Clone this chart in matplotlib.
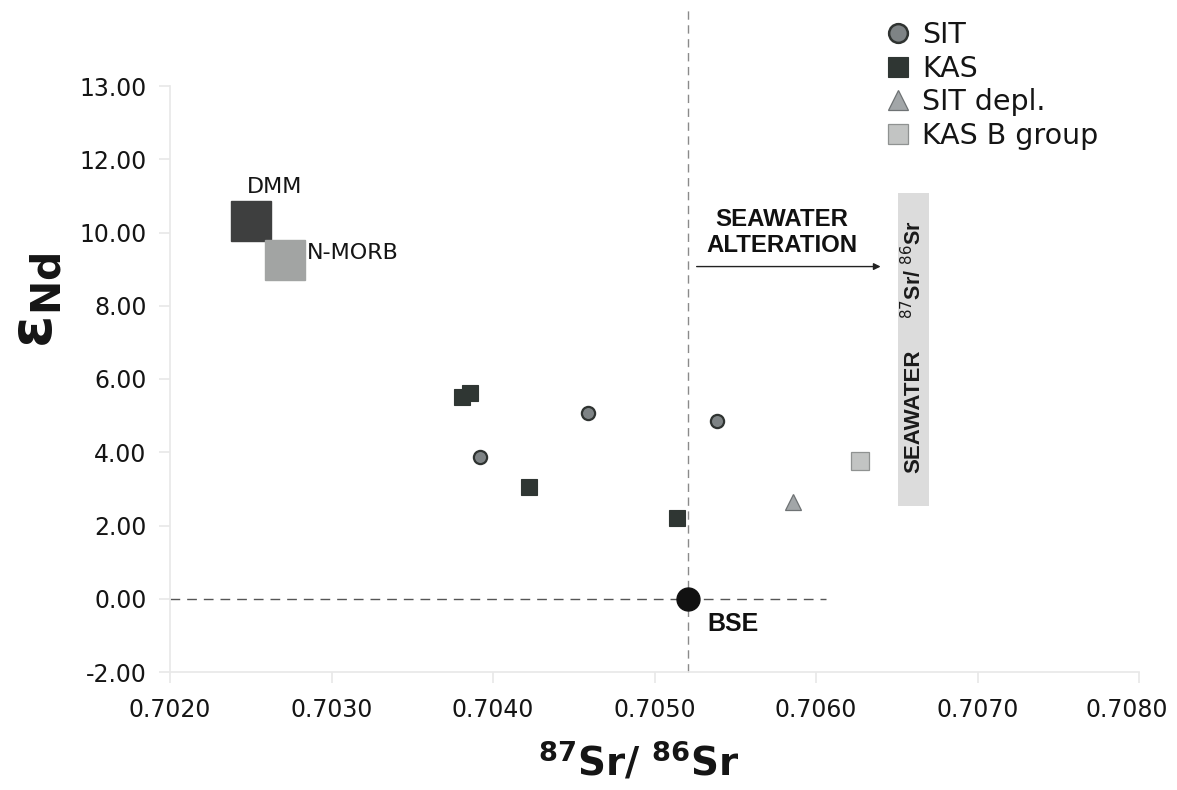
import matplotlib
matplotlib.use("Agg")
import matplotlib.pyplot as plt
from matplotlib.lines import Line2D
from matplotlib.patches import Rectangle
from matplotlib.transforms import ScaledTranslation

# --- data -------------------------------------------------------------
sit_sr = [0.70392, 0.70459, 0.70539]
sit_nd = [3.86, 5.08, 4.84]

kas_sr = [0.70381, 0.70386, 0.70422, 0.70514]
kas_nd = [5.52, 5.61, 3.05, 2.21]

sit_depl_sr = [0.70586]
sit_depl_nd = [2.65]

kas_b_sr = [0.70627]
kas_b_nd = [3.75]

dmm = (0.70250, 10.31)
nmorb = (0.70271, 9.26)
bse = (0.70521, 0.0)

seawater_sr = (0.70651, 0.70670)   # band width along x
seawater_nd = (2.52, 11.08)        # band extent along y

xticks = [0.7020, 0.7030, 0.7040, 0.7050, 0.7060, 0.7070, 0.7080]
xtick_labels = ["0.7020", "0.7030", "0.7040", "0.7050", "0.7060", "0.7070", "0.7080"]
yticks = [-2, 0, 2, 4, 6, 8, 10, 12, 14]
ytick_labels = ["-2.00", "0.00", "2.00", "4.00", "6.00", "8.00", "10.00", "12.00", "13.00"]

# --- figure -------------------------------------------------------------
W, H, DPI = 1177, 790, 100
fig = plt.figure(figsize=(W / DPI, H / DPI), dpi=DPI)
ax = fig.add_axes([170 / W, 1 - 672 / H, (1139 - 170) / W, (672 - 86) / H])

ax.set_xlim(0.7020, 0.7080)
ax.set_ylim(-2, 14)
ax.set_xticks(xticks)
ax.set_xticklabels(xtick_labels)
ax.set_yticks(yticks)
ax.set_yticklabels(ytick_labels)

for side in ("top", "right"):
    ax.spines[side].set_visible(False)
for side in ("left", "bottom"):
    ax.spines[side].set_color("#e8e8e8")
    ax.spines[side].set_linewidth(1.2)
ax.tick_params(axis="both", which="major", length=8, width=1.2, color="#e8e8e8",
               labelsize=17, labelcolor="#151515", direction="out")
ax.tick_params(axis="x", pad=11)
ax.tick_params(axis="y", pad=9)

# keep the right-most tick label inside the canvas
last = ax.xaxis.get_major_ticks()[-1].label1
last.set_transform(last.get_transform() + ScaledTranslation(-12 / DPI, 0, fig.dpi_scale_trans))

# reference lines through the bulk silicate earth
ax.plot([bse[0], bse[0]], [-2, 16.1], ls=(0, (6, 4)), lw=1.0, color="#8a8a8a",
        clip_on=False, zorder=1)
ax.plot([0.7020, 0.70606], [0, 0], ls=(0, (7, 5)), lw=1.0, color="#555555", zorder=1)

# seawater band
ax.add_patch(Rectangle((seawater_sr[0], seawater_nd[0]),
                       seawater_sr[1] - seawater_sr[0], seawater_nd[1] - seawater_nd[0],
                       facecolor="#dcdcdc", edgecolor="none", zorder=1))
band_x = 0.5 * (seawater_sr[0] + seawater_sr[1])
ax.text(band_x, 5.13, "SEAWATER", rotation=90, ha="center", va="center",
        fontsize=16, fontweight="bold", family="Liberation Sans", color="#1a1a1a")
ax.text(band_x, 9.0, r"$^{87}$Sr/ $^{86}$Sr", rotation=90, ha="center", va="center",
        fontsize=15.5, fontweight="bold", family="Liberation Sans", color="#1a1a1a")

# seawater alteration arrow
ax.annotate("", xy=(0.70640, 9.07), xytext=(0.705261, 9.07),
            arrowprops=dict(arrowstyle="-|>", color="#222222", lw=1.0,
                            mutation_scale=10, shrinkA=0, shrinkB=0))
ax.text(0.705788, 10.0, "SEAWATER\nALTERATION", ha="center", va="center",
        fontsize=17.3, fontweight="bold", family="Liberation Sans",
        color="#111111", linespacing=1.12)

# mantle reservoirs
ax.plot(*dmm, marker="s", ms=29.5, mfc="#3e3f3f", mec="#3e3f3f", ls="none", zorder=3)
ax.plot(*nmorb, marker="s", ms=29.5, mfc="#a2a4a3", mec="#a2a4a3", ls="none", zorder=4)
ax.text(0.702475, 11.23, "DMM", ha="left", va="center", fontsize=16, color="#151515")
ax.text(0.70285, 9.45, "N-MORB", ha="left", va="center", fontsize=16, color="#151515")

ax.plot(*bse, marker="o", ms=16.5, mfc="#111111", mec="#111111", ls="none", zorder=5)
ax.text(0.705325, -0.69, "BSE", ha="left", va="center", fontsize=18,
        fontweight="bold", family="Liberation Sans", color="#111111")

# samples
ax.plot(sit_sr, sit_nd, marker="o", ms=9.5, mfc="#7e8385", mec="#2f3331", mew=1.6,
        ls="none", zorder=5)
ax.plot(kas_sr, kas_nd, marker="s", ms=11, mfc="#2f3633", mec="#2f3633", mew=0.8,
        ls="none", zorder=5)
ax.plot(sit_depl_sr, sit_depl_nd, marker="^", ms=11, mfc="#a2a6a8", mec="#6e7274",
        mew=0.9, ls="none", zorder=5)
ax.plot(kas_b_sr, kas_b_nd, marker="s", ms=12.5, mfc="#c2c4c3", mec="#8f9291",
        mew=0.9, ls="none", zorder=5)

# legend
handles = [
    Line2D([], [], marker="o", ms=13.5, mfc="#7e8385", mec="#2f3331", mew=1.8, ls="none"),
    Line2D([], [], marker="s", ms=14, mfc="#2f3633", mec="#2f3633", mew=0.8, ls="none"),
    Line2D([], [], marker="^", ms=14, mfc="#a2a6a8", mec="#6e7274", mew=0.9, ls="none"),
    Line2D([], [], marker="s", ms=14, mfc="#c2c4c3", mec="#8f9291", mew=0.9, ls="none"),
]
labels = ["SIT", "KAS", "SIT depl.", "KAS B group"]
leg = fig.legend(handles, labels, loc="upper left", bbox_to_anchor=(885 / W, 1 - 21 / H),
                 frameon=False, fontsize=20.5, handlelength=0.9, handletextpad=0.4,
                 labelspacing=0.2, borderpad=0, borderaxespad=0)
for t in leg.get_texts():
    t.set_color("#151515")

# axis labels
ax.set_xlabel(r"$\mathbf{^{87}Sr/\ ^{86}Sr}$", fontsize=28, color="#151515")
ax.xaxis.set_label_coords((639 - 170) / (1139 - 170), (672 - 741) / (672 - 86))
ax.set_ylabel(r"$\boldsymbol{\varepsilon}_{\mathbf{Nd}}$", fontsize=42, color="#151515")
ax.yaxis.set_label_coords((64 - 170) / (1139 - 170), (672 - 300) / (672 - 86))

fig.savefig("out.png", dpi=DPI)
